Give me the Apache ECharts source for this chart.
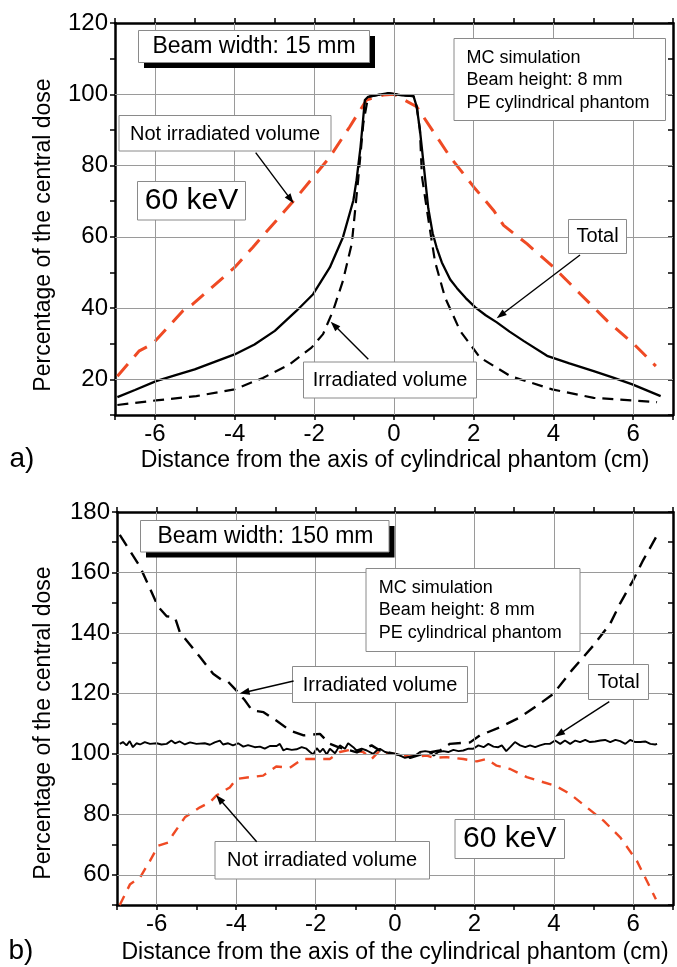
<!DOCTYPE html>
<html><head><meta charset="utf-8">
<script src="https://cdn.jsdelivr.net/npm/echarts@6/dist/echarts.min.js"></script>
<style>html,body{margin:0;padding:0;background:#fff}#c{width:677px;height:967px}</style>
</head><body><div id="c"></div>
<script>
// ---------- Panel a (beam width 15 mm) ----------
const xTotalA = [-6.94,-6.5,-5.97,-5.5,-5.0,-4.5,-4.0,-3.5,-2.99,-2.45,-2.03,-1.61,-1.28,-1.02,-0.94,-0.84,-0.73,-0.65,-0.4,-0.14,0.2,0.49,0.57,0.65,0.75,0.86,0.97,1.07,1.2,1.41,1.58,1.8,2.04,2.3,2.58,2.9,3.25,3.84,4.4,5.01,5.5,5.98,6.69];
const yTotalA = [15.0,17.0,19.5,21.1,22.8,24.9,27.0,29.8,33.6,39.2,43.9,51.4,59.9,70.2,75.9,85.2,98.4,99.3,99.8,100.3,99.7,99.5,96.5,90.0,79.6,68.0,61.0,57.0,52.8,48.0,45.6,42.8,40.2,38.0,36.0,33.4,30.8,26.6,24.5,22.3,20.5,18.6,15.3];
const xIrrA = [-6.94,-5.97,-4.96,-4.0,-3.29,-2.62,-2.07,-1.78,-1.53,-1.28,-1.06,-0.9,-0.77,-0.65,-0.4,-0.14,0.2,0.49,0.57,0.65,0.70,0.82,0.93,1.03,1.28,1.66,2.16,2.92,3.97,5.01,5.98,6.6];
const yIrrA = [12.8,14.1,15.3,17.2,20.4,24.2,28.9,32.7,39.2,47.7,58.0,75.9,91.8,99.3,99.8,100.3,99.7,99.5,96.5,90.0,77.0,68.0,60.0,53.0,43.0,33.6,26.1,20.9,17.2,14.8,14.1,13.6];
const xNotA = [-6.94,-6.39,-6.06,-5.3,-5.05,-4.0,-3.54,-2.95,-2.45,-1.61,-1.11,-0.69,-0.27,0,0.57,1.41,2.0,2.5,2.75,3.34,4.01,4.68,5.35,6.02,6.57];
const yNotA = [20.9,28.0,29.9,39.2,41.1,51.4,57.1,64.6,71.0,82.4,90.9,98.4,99.8,100,96.5,82.4,74.0,67.4,63.2,58.0,51.4,43.9,36.4,29.9,23.7];

// ---------- Panel b (beam width 150 mm) ----------
const xTotalB = [-6.93,-6.85,-6.76,-6.68,-6.60,-6.51,-6.42,-6.30,-6.17,-6.00,-5.88,-5.75,-5.63,-5.54,-5.42,-5.29,-5.16,-5.00,-4.79,-4.66,-4.54,-4.41,-4.33,-4.20,-4.08,-3.95,-3.82,-3.70,-3.53,-3.40,-3.28,-3.15,-2.98,-2.90,-2.81,-2.73,-2.60,-2.48,-2.35,-2.23,-2.14,-2.06,-1.97,-1.89,-1.81,-1.72,-1.64,-1.51,-1.39,-1.26,-1.18,-1.05,-0.97,-0.84,-0.71,-0.55,-0.46,-0.38,-0.25,-0.13,0,0.13,0.25,0.38,0.5,0.63,0.76,0.88,0.97,1.09,1.22,1.34,1.47,1.6,1.72,1.85,1.97,2.1,2.23,2.35,2.48,2.6,2.69,2.8,2.9,3.02,3.15,3.28,3.4,3.53,3.65,3.78,3.9,4.03,4.16,4.28,4.41,4.54,4.66,4.79,4.91,5.04,5.17,5.29,5.42,5.55,5.67,5.8,5.92,6.05,6.18,6.30,6.43,6.55,6.6];
const yTotalB = [103.3,103.9,102.8,104.2,102.2,103.5,103.1,103.9,103.3,103.5,103.1,103.3,104.4,103.5,104.1,103.1,103.8,103.3,103.5,103.0,103.8,104.4,103.1,103.5,102.8,103.5,102.4,102.9,102.2,102.4,101.7,102.6,102.6,103.3,101.1,101.7,101.3,101.5,102.2,101.7,100.6,99.8,101.9,100.6,101.7,99.8,101.7,100.2,102.8,101.7,103.5,102.2,101.1,101.7,101.1,100.0,101.1,101.7,100.6,100.2,100.0,99.4,98.7,99.1,99.4,100.6,100.9,100.6,99.4,100.6,100.9,100.6,101.3,100.9,101.1,101.7,101.7,102.8,102.2,103.3,102.4,102.2,102.8,100.9,102.2,103.9,102.8,102.2,102.8,102.2,102.8,103.3,103.3,104.4,103.3,104.4,103.3,104.4,103.9,104.6,103.9,104.1,104.4,104.6,103.9,104.6,104.2,103.3,104.6,103.9,103.9,104.1,103.3,103.1,103.3];
const xIrrB = [-6.93,-6.42,-5.96,-5.75,-5.54,-5.42,-4.91,-4.58,-4.37,-4.2,-3.99,-3.78,-3.6,-3.31,-2.99,-2.64,-2.3,-1.89,-1.64,-1.43,-0.96,-0.59,-0.38,0,0.38,0.76,1.13,1.38,1.89,2.14,2.64,3.15,3.65,3.99,4.45,5.0,5.42,5.67,6.0,6.25,6.57];
const yIrrB = [172.4,161.9,148.6,145.5,145.1,140.3,132.0,126.5,124.5,123.8,120.9,117.7,114.4,113.8,111.0,107.7,106.1,106.6,103.3,102.2,100.5,102.8,101.1,100.0,98.7,100.2,101.1,103.3,103.8,106.1,108.8,112.1,116.6,119.9,127.6,135.9,143.1,149.8,157.5,164.1,171.6];
const xNotB = [-6.93,-6.67,-6.42,-6.17,-5.96,-5.71,-5.58,-5.29,-4.91,-4.66,-4.50,-4.16,-3.99,-3.66,-3.32,-2.99,-2.65,-2.32,-1.98,-1.64,-1.39,-1.13,-0.80,-0.59,-0.38,-0.13,0,0.38,0.80,0.97,1.30,1.72,2.06,2.31,2.56,2.90,3.32,3.74,4.03,4.41,4.83,5.25,5.67,6.09,6.34,6.57];
const yNotB = [50.0,56.9,59.1,64.6,69.6,70.7,73.5,79.0,82.3,84.0,86.2,88.9,91.7,92.3,92.8,95.8,95.4,98.3,98.3,98.3,100.6,101.3,100.6,98.3,101.1,100.0,100.0,99.1,99.4,98.7,98.9,98.3,97.5,98.3,96.1,95.0,92.3,90.6,89.5,86.7,82.3,77.9,72.4,64.6,58.0,51.9];

// ---------- Axes / ticks ----------
const xGridTicks = [-6,-4,-2,0,2,4,6];
const yGridTicksA = [20,40,60,80,100];
const yGridTicksB = [60,80,100,120,140,160];
const xRange = [-7, 7];
const yRangeA = [10, 120];
const yRangeB = [50, 180];

const FONT = '"Liberation Sans", Arial, Helvetica, sans-serif';
const RED = '#ef4a24';
const zip = (xs, ys) => xs.map((x, i) => [x, ys[i]]);

const gridA = {left: 115, top: 23, width: 558, height: 392};
const gridB = {left: 117, top: 512, width: 556, height: 393};

function xAxes(gi) {
  const common = {
    type: 'value', gridIndex: gi, min: xRange[0], max: xRange[1], interval: 1,
    axisLine: {show: true, onZero: false, lineStyle: {color: '#000', width: 2.5}},
    axisTick: {show: true, length: 5, lineStyle: {color: '#000', width: 1.5}},
    splitLine: {show: false}
  };
  return [
    Object.assign({}, common, {position: 'bottom',
      axisLabel: {show: true, margin: 7, color: '#000', fontSize: 24, fontFamily: FONT,
        formatter: v => (Math.abs(Math.round(v)) % 2 === 0 ? String(v) : '')}}),
    Object.assign({}, common, {position: 'top', axisLabel: {show: false}})
  ];
}
function yAxes(gi, range, minLabel) {
  const common = {
    type: 'value', gridIndex: gi, min: range[0], max: range[1], interval: 10,
    axisLine: {show: true, onZero: false, lineStyle: {color: '#000', width: 2.5}},
    splitLine: {show: false}
  };
  return [
    Object.assign({}, common, {position: 'left',
      axisTick: {show: true, length: 5, lineStyle: {color: '#000', width: 1.5}},
      axisLabel: {show: true, margin: 7, color: '#000', fontSize: 24, fontFamily: FONT,
        formatter: v => (v % 20 === 0 && v >= minLabel ? String(v) : '')}}),
    Object.assign({}, common, {position: 'right',
      axisTick: {show: true, inside: true, length: 5, lineStyle: {color: '#000', width: 1.5}},
      axisLabel: {show: false}})
  ];
}

function gridLines(xi, yi, yTicks) {
  return {
    type: 'line', xAxisIndex: xi, yAxisIndex: yi, data: [], z: 1, silent: true,
    markLine: {
      silent: true, symbol: ['none', 'none'], label: {show: false}, animation: false,
      lineStyle: {color: '#9a9a9a', type: 'solid', width: 1},
      emphasis: {disabled: true},
      data: xGridTicks.map(v => ({xAxis: v})).concat(yTicks.map(v => ({yAxis: v})))
    }
  };
}
function lineSeries(name, xi, yi, data, color, width, dash) {
  return {
    name, type: 'line', xAxisIndex: xi, yAxisIndex: yi, data, z: 3,
    symbol: 'none', smooth: false, silent: true,
    lineStyle: {color, width, type: dash || 'solid'}
  };
}

// ---------- Annotations ----------
function box(x, y, w, h) {
  return {type: 'rect', shape: {x, y, width: w, height: h}, style: {fill: '#fff', stroke: '#8a8a8a', lineWidth: 1}, z: 10};
}
function shadowBox(x, y, w, h, d) {
  return [
    {type: 'rect', shape: {x: x + d, y: y + d, width: w, height: h}, style: {fill: '#000'}, z: 10},
    box(x, y, w, h)
  ];
}
function txt(text, x, y, size, align, extra) {
  return Object.assign({type: 'text', x, y, z: 11,
    style: {text, font: size + 'px ' + FONT, fill: '#000', textAlign: align || 'center', textVerticalAlign: 'middle'}}, extra || {});
}
function arrow(x1, y1, x2, y2) {
  const a = Math.atan2(y2 - y1, x2 - x1), L = 10, W = 3.6;
  const c = Math.cos(a), s = Math.sin(a);
  const bx = x2 - L * c, by = y2 - L * s;
  return [
    {type: 'line', shape: {x1, y1, x2: bx + 2 * c, y2: by + 2 * s}, style: {stroke: '#000', lineWidth: 1.4}, z: 11},
    {type: 'polygon', shape: {points: [[x2, y2], [bx - W * s, by + W * c], [bx + W * s, by - W * c]]}, style: {fill: '#000'}, z: 11}
  ];
}

const graphics = [].concat(
  // panel a
  shadowBox(138.5, 30.5, 231, 32, 5.5),
  [txt('Beam width: 15 mm', 254, 47, 23)],
  [box(454, 38.5, 211.5, 82)],
  [txt('MC simulation', 466.5, 57.7, 18, 'left'), txt('Beam height: 8 mm', 466.5, 80.2, 18, 'left'), txt('PE cylindrical phantom', 466.5, 102.7, 18, 'left')],
  [box(119, 115.5, 212, 35.5), txt('Not irradiated volume', 225, 134, 20)],
  [box(137.5, 181.5, 108, 38.5), txt('60 keV', 191.5, 201, 30)],
  [box(568.5, 219.5, 58, 34), txt('Total', 597.5, 236.5, 20)],
  [box(303.5, 362, 173, 36), txt('Irradiated volume', 390, 380, 20)],
  arrow(255.7, 152.7, 293.6, 203.3),
  arrow(580, 255, 496.7, 318.3),
  arrow(368.3, 359.3, 330.7, 321.7),
  [txt('a)', 22, 459, 28)],
  [txt('Percentage of the central dose', 44, 235, 23, 'center', {rotation: Math.PI / 2})],
  [txt('Distance from the axis of cylindrical phantom (cm)', 395, 461, 23)],
  // panel b
  shadowBox(140.5, 520.5, 248.5, 31.5, 5.5),
  [txt('Beam width: 150 mm', 265.5, 537, 23)],
  [box(366, 568.5, 214, 83)],
  [txt('MC simulation', 378.7, 587.7, 18, 'left'), txt('Beam height: 8 mm', 378.7, 610.5, 18, 'left'), txt('PE cylindrical phantom', 378.7, 633.3, 18, 'left')],
  [box(292.5, 666.5, 175, 36), txt('Irradiated volume', 380, 685, 20)],
  [box(588.5, 664.5, 60, 35), txt('Total', 618.5, 682, 20)],
  [box(215, 841.5, 214.5, 37.5), txt('Not irradiated volume', 322, 860.5, 20)],
  [box(455, 819.5, 109.5, 39), txt('60 keV', 509.7, 839, 30)],
  arrow(293.6, 681, 239.6, 693.5),
  arrow(609.3, 701.7, 555, 736.7),
  arrow(256.7, 841.7, 216, 795),
  [txt('b)', 21, 951, 28)],
  [txt('Percentage of the central dose', 44, 723, 23, 'center', {rotation: Math.PI / 2})],
  [txt('Distance from the axis of the cylindrical phantom (cm)', 395, 953, 23)]
);

const chart = echarts.init(document.getElementById('c'), null, {renderer: 'canvas'});
chart.setOption({
  animation: false,
  backgroundColor: '#fff',
  grid: [Object.assign({containLabel: false}, gridA), Object.assign({containLabel: false}, gridB)],
  xAxis: xAxes(0).concat(xAxes(1)),
  yAxis: yAxes(0, yRangeA, 20).concat(yAxes(1, yRangeB, 60)),
  series: [
    gridLines(0, 0, yGridTicksA),
    gridLines(2, 2, yGridTicksB),
    lineSeries('Not irradiated volume', 0, 0, zip(xNotA, yNotA), RED, 3, [16, 10]),
    lineSeries('Irradiated volume', 0, 0, zip(xIrrA, yIrrA), '#000', 2.2, [11, 7]),
    lineSeries('Total', 0, 0, zip(xTotalA, yTotalA), '#000', 2.3),
    lineSeries('Not irradiated volume', 2, 2, zip(xNotB, yNotB), RED, 2.4, [10, 8]),
    lineSeries('Irradiated volume', 2, 2, zip(xIrrB, yIrrB), '#000', 2.4, [13, 8]),
    lineSeries('Total', 2, 2, zip(xTotalB, yTotalB), '#000', 1.9)
  ],
  graphic: {elements: graphics}
});
</script></body></html>
